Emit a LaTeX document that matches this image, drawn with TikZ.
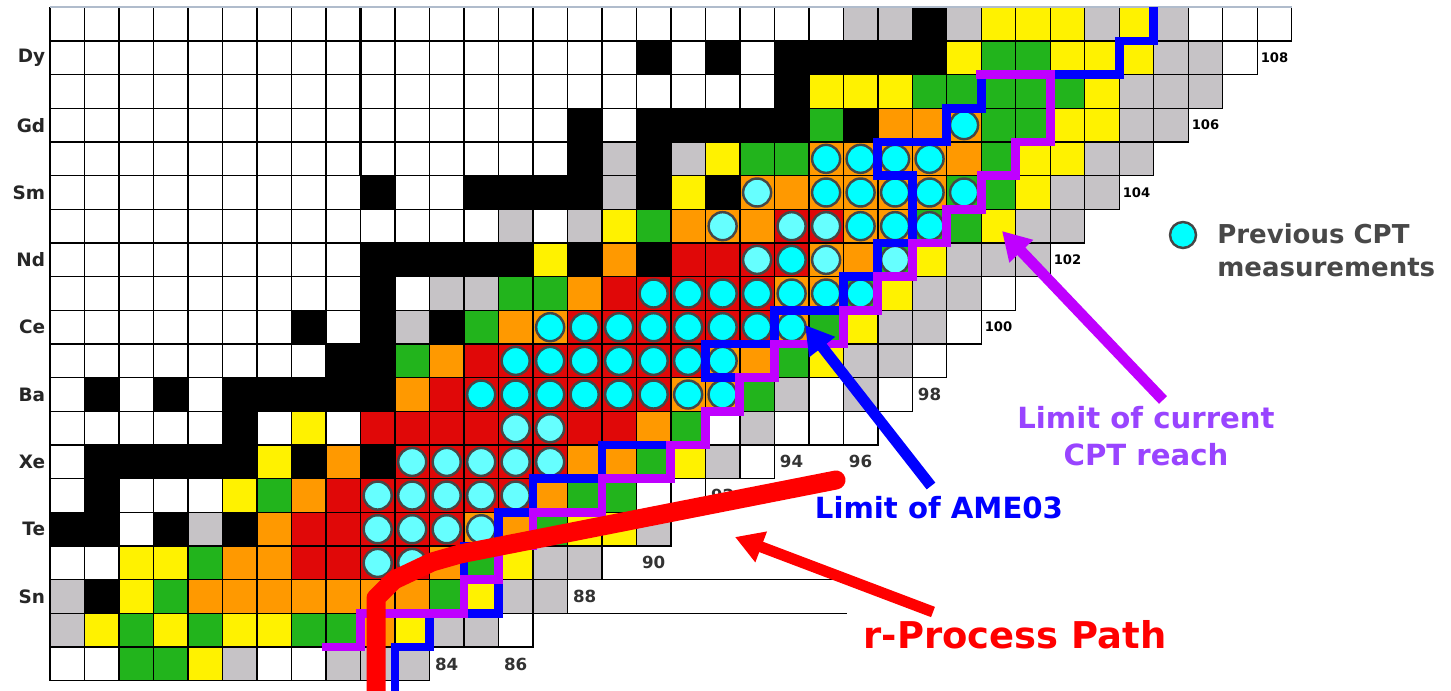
\documentclass[tikz,border=0pt]{standalone}
\usepackage{fontspec}
\setmainfont{DejaVu Sans}
\usepackage{xcolor}
\definecolor{nucW}{RGB}{255,255,255}
\definecolor{nucK}{RGB}{0,0,0}
\definecolor{nucG}{RGB}{198,195,198}
\definecolor{nucY}{RGB}{255,242,0}
\definecolor{nucN}{RGB}{34,180,28}
\definecolor{nucO}{RGB}{255,153,0}
\definecolor{nucR}{RGB}{224,8,8}
\definecolor{cptcyan}{RGB}{0,255,255}
\definecolor{cptlight}{RGB}{102,255,255}
\definecolor{measedge}{RGB}{70,70,70}
\definecolor{ameblue}{RGB}{0,0,255}
\definecolor{reachpurple}{RGB}{191,0,255}
\definecolor{reachtext}{RGB}{153,68,255}
\definecolor{rpred}{RGB}{255,0,0}
\definecolor{legendgray}{RGB}{72,72,72}
\definecolor{topline}{RGB}{176,188,204}
\usetikzlibrary{arrows.meta}

\begin{document}
\begin{tikzpicture}[
    x=0.02cm, y=-0.02cm,
    cellbox/.style={draw=black, line width=0.75pt},
    meas/.style={draw=measedge, line width=1.4pt},
    amepath/.style={draw=ameblue, line width=5pt},
    reachpath/.style={draw=reachpurple, line width=5pt},
    zlabel/.style={anchor=east, inner sep=1pt, font=\fontsize{10.5}{12}\selectfont\bfseries, text=black!85},
    nbig/.style={inner sep=0pt, font=\fontsize{9.5}{11}\selectfont\bfseries, text=black!80},
    nsmall/.style={inner sep=0pt, font=\fontsize{7.5}{9}\selectfont\bfseries},
    pointer/.style={-{Triangle[length=0.56cm, width=0.62cm]}, line width=0.22cm}
]
\useasboundingbox (0,0) rectangle (1451,690);

\begin{scope}[shift={(50,7.3)}, x=0.69cm, y=-0.6736cm]

% Celdas de la carta (fila = Z, de 67 a 48)
\foreach \r/\row in {
  0/{W,W,W,W,W,W,W,W,W,W,W,W,W,W,W,W,W,W,W,W,W,W,W,G,G,K,G,Y,Y,Y,G,Y,G,W,W,W},
  1/{W,W,W,W,W,W,W,W,W,W,W,W,W,W,W,W,W,K,W,K,W,K,K,K,K,K,Y,N,N,Y,Y,Y,G,G,W},
  2/{W,W,W,W,W,W,W,W,W,W,W,W,W,W,W,W,W,W,W,W,W,K,Y,Y,Y,N,N,N,N,N,Y,G,G,G},
  3/{W,W,W,W,W,W,W,W,W,W,W,W,W,W,W,K,W,K,K,K,K,K,N,K,O,O,O,N,N,Y,Y,G,G},
  4/{W,W,W,W,W,W,W,W,W,W,W,W,W,W,W,K,G,K,G,Y,N,N,O,O,O,O,O,N,Y,Y,G,G},
  5/{W,W,W,W,W,W,W,W,W,K,W,W,K,K,K,K,G,K,Y,K,O,O,O,O,O,O,N,N,Y,G,G},
  6/{W,W,W,W,W,W,W,W,W,W,W,W,W,G,W,G,Y,N,O,O,O,R,R,O,O,N,N,Y,G,G},
  7/{W,W,W,W,W,W,W,W,W,K,K,K,K,K,Y,K,O,K,R,R,R,R,O,O,N,Y,G,G,G},
  8/{W,W,W,W,W,W,W,W,W,K,W,G,G,N,N,O,R,R,R,R,R,O,O,N,Y,G,G,W},
  9/{W,W,W,W,W,W,W,K,W,K,G,K,N,O,O,R,R,R,R,R,R,O,N,Y,G,G,W},
  10/{W,W,W,W,W,W,W,W,K,K,N,O,R,R,R,R,R,R,R,O,O,N,Y,G,G,W},
  11/{W,K,W,K,W,K,K,K,K,K,O,R,R,R,R,R,R,R,O,O,N,G,W,G,W},
  12/{W,W,W,W,W,K,W,Y,W,R,R,R,R,R,R,R,R,O,N,W,G,W,W,W},
  13/{W,K,K,K,K,K,Y,K,O,K,R,R,R,R,R,O,O,N,Y,G,W},
  14/{W,K,W,W,W,Y,N,O,R,R,R,R,R,R,O,N,N,W,W},
  15/{K,K,W,K,G,K,O,R,R,R,R,R,O,O,N,Y,Y,G},
  16/{W,W,Y,Y,N,O,O,R,R,R,R,O,N,Y,G,G},
  17/{G,K,Y,N,O,O,O,O,O,O,O,N,Y,G,G},
  18/{G,Y,N,Y,N,Y,Y,N,N,O,Y,G,G,W},
  19/{W,W,N,N,Y,G,W,W,G,G,G}}
  \foreach \k [count=\c from 0] in \row
    \filldraw[cellbox, fill=nuc\k] (\c,\r) rectangle ++(1,1);

% Bordes sueltos
\draw[line width=2.2pt] (9,0) -- (9,5);
\draw[topline, line width=1.2pt] (0,0) -- (36,0);
\draw[line width=0.75pt] (16,17) -- (22.8,17);
\draw[line width=0.75pt] (14,18) -- (23.1,18);

% Medidas CPT previas
\foreach \r/\a/\b in {3/26/26, 4/22/25, 5/22/26, 6/23/25, 7/21/21,
    8/17/23, 9/14/21, 10/13/19, 11/12/19}
  \foreach \c in {\a,...,\b}
    \filldraw[meas, fill=cptcyan] (\c+0.5,\r+0.5) circle (0.28cm);
\foreach \r/\a/\b in {5/20/20, 6/19/19, 6/21/22, 7/20/20, 7/22/22, 7/24/24,
    12/13/14, 13/10/14, 14/9/13, 15/9/12, 16/9/10}
  \foreach \c in {\a,...,\b}
    \filldraw[meas, fill=cptlight] (\c+0.5,\r+0.5) circle (0.28cm);

% Limite AME03
\draw[amepath] (32,0) -- (32,1) -- (31,1) -- (31,2) -- (27,2) -- (27,3) -- (26,3)
  -- (26,4) -- (24,4) -- (24,5) -- (25,5) -- (25,7) -- (24,7) -- (24,8) -- (23,8)
  -- (23,9) -- (21,9) -- (21,10) -- (19,10) -- (19,11) -- (20,11) -- (20,12)
  -- (19,12) -- (19,13) -- (16,13) -- (16,14) -- (14,14) -- (14,15) -- (13,15)
  -- (13,16) -- (12,16) -- (12,17) -- (13,17) -- (13,18) -- (11,18) -- (11,19)
  -- (10,19) -- (10,20.4);

% Alcance actual de CPT
\draw[reachpath] (26.85,2) -- (29,2) -- (29,4) -- (28,4) -- (28,5) -- (27,5) -- (27,6)
  -- (26,6) -- (26,7) -- (25,7) -- (25,8) -- (24,8) -- (24,9) -- (23,9) -- (23,10)
  -- (21,10) -- (21,11) -- (20,11) -- (20,12) -- (19,12) -- (19,13) -- (18,13)
  -- (18,14) -- (16,14) -- (16,15) -- (14,15) -- (14,16) -- (13,16) -- (13,17)
  -- (12,17) -- (12,18) -- (9,18) -- (9,19) -- (7.9,19);

% Etiquetas de Z
\foreach \r/\el in {1/Dy, 3/Gd, 5/Sm, 7/Nd, 9/Ce, 11/Ba, 13/Xe, 15/Te, 17/Sn}
  \node[zlabel] (z\el) at (-0.08,\r+0.5) {\el};

% Etiquetas de N
\foreach \c/\r/\n in {11/19/84, 13/19/86, 15/17/88, 17/16/90, 19/14/92,
    21/13/94, 23/13/96, 25/11/98}
  \node[nbig] (n\n) at (\c+0.5,\r+0.5) {\n};
\foreach \c/\r/\n in {27/9/100, 29/7/102, 31/5/104, 33/3/106, 35/1/108}
  \node[nsmall] (n\n) at (\c+0.5,\r+0.5) {\n};
\end{scope}

% Camino del proceso r
\draw[rpred, line width=0.38cm, line join=round, line cap=round]
  (376,705) -- (376,598) -- (394,580) -- (432,562) -- (460,554) -- (836,480);

% Leyenda
\node[circle, draw=measedge, line width=1.4pt, fill=cptcyan, minimum size=0.52cm, inner sep=0pt] (legdot) at (1183,235) {};
\node[anchor=west, align=left, inner sep=0pt, text=legendgray,
      font=\fontsize{14.8}{18.8}\selectfont\bfseries] (legtext) at (1217,250)
  {Previous CPT\\measurements};

% Rotulos
\node[align=center, text=reachtext, font=\fontsize{16.6}{21}\selectfont\bfseries]
  (reachlabel) at (1146,436) {Limit of current\\CPT reach};
\node[text=ameblue, font=\fontsize{16.6}{20}\selectfont\bfseries]
  (amelabel) at (939,508) {Limit of AME03};
\node[text=rpred, font=\fontsize{21}{25}\selectfont\bfseries]
  (rplabel) at (1015,635) {r-Process Path};

% Flechas
\coordinate (reachtail) at (1163,400);
\coordinate (reachtip) at (1002,231);
\coordinate (ametail) at (931,486);
\coordinate (ametip) at (805,325);
\coordinate (rptail) at (933,612);
\coordinate (rptip) at (735,537);
\draw[pointer, reachpurple] (reachtail) -- (reachtip);
\draw[pointer, ameblue] (ametail) -- (ametip);
\draw[pointer, rpred] (rptail) -- (rptip);

\end{tikzpicture}
\end{document}
